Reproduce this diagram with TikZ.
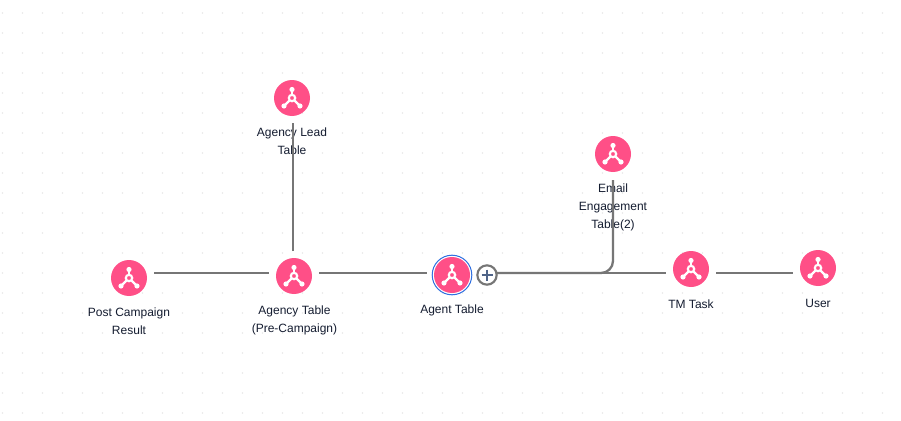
\documentclass[tikz,border=0pt]{standalone}
\usepackage{fontspec}
\setmainfont{Liberation Sans}
\usetikzlibrary{calc}
\definecolor{pinkc}{HTML}{FF4F87}
\definecolor{linec}{HTML}{767676}
\definecolor{dotc}{HTML}{E8E8E8}
\definecolor{labelc}{HTML}{141C30}
\definecolor{plusc}{HTML}{4F6488}
\definecolor{ringc}{HTML}{2F6FE0}
\tikzset{
  x=0.75pt,y=-0.75pt,
  table/.style={circle,fill=pinkc,minimum size=27pt,inner sep=0pt,outer sep=0pt},
  tlabel/.style={font=\fontsize{9}{13.5}\selectfont,text=labelc,align=center,inner sep=0pt},
  link/.style={draw=linec,line width=1.75pt},
  iconline/.style={draw=white,line width=1.6pt},
}
\newcommand{\hubicon}[1]{%
  \draw[iconline] ($(#1)+(0,-2)$) -- ($(#1)+(0,-8.5)$);
  \draw[iconline] ($(#1)+(-2,2)$) -- ($(#1)+(-8,8)$);
  \draw[iconline] ($(#1)+(2,2)$) -- ($(#1)+(8,8)$);
  \fill[white] ($(#1)+(0,-8.5)$) circle (2.6);
  \fill[white] ($(#1)+(-8,8)$) circle (2.6);
  \fill[white] ($(#1)+(8,8)$) circle (2.6);
  \draw[white,line width=1.6pt] (#1) circle (3.2);
}
\begin{document}
\begin{tikzpicture}
\useasboundingbox (0,0) rectangle (901,421);
\fill[white] (0,0) rectangle (901,421);
\foreach \i in {0,...,44} \foreach \j in {0,...,20}
  \fill[dotc] (2.5+20*\i,13+20*\j) circle (0.8);

\node[tlabel] (postl) at (129,321) {Post Campaign\\Result};
\node[tlabel] (agencyl) at (294.5,320) {Agency Table\\(Pre-Campaign)};
\node[tlabel] (agentl) at (452,310) {Agent Table};
\node[tlabel] (leadl) at (292,141) {Agency Lead\\Table};
\node[tlabel] (emaill) at (613,207) {Email\\Engagement\\Table(2)};
\node[tlabel] (tml) at (691,304) {TM Task};
\node[tlabel] (userl) at (818,303) {User};

\node[table] (post) at (129,278) {};
\node[table] (agency) at (294,276) {};
\node[table] (agent) at (452,275) {};
\node[table] (lead) at (292,98) {};
\node[table] (email) at (613,154) {};
\node[table] (tm) at (691,269) {};
\node[table] (user) at (818,268) {};

\foreach \n in {post,agency,agent,lead,email,tm,user} {\hubicon{\n}}
\draw[ringc,line width=0.75pt] (agent) circle (19.8);

\node[circle,draw=linec,line width=1.6pt,fill=white,minimum size=14.5pt,inner sep=0pt,outer sep=0pt] (plus) at (487,275) {};
\draw[plusc,line width=1.3pt] ($(plus)+(-5.5,0)$) -- ($(plus)+(5.5,0)$);
\draw[plusc,line width=1.3pt] ($(plus)+(0,-5.5)$) -- ($(plus)+(0,5.5)$);

\coordinate (postr) at (154,273);
\coordinate (agencyw) at (269,273);
\coordinate (agencye) at (319,273);
\coordinate (agentw) at (427,273);
\coordinate (agencyn) at (293,251);
\coordinate (leads) at (293,123);
\coordinate (pluse) at (497,273);
\coordinate (tmw) at (666,273);
\coordinate (tme) at (716,273);
\coordinate (userw) at (793,273);
\coordinate (emails) at (613,180);

\draw[link] (postr) -- (agencyw);
\draw[link] (agencye) -- (agentw);
\draw[link] (agencyn) -- (leads);
\draw[link] (pluse) -- (tmw);
\draw[link] (tme) -- (userw);
\draw[link,rounded corners=9pt] (emails) -- (613,273) -- (pluse);
\end{tikzpicture}
\end{document}
